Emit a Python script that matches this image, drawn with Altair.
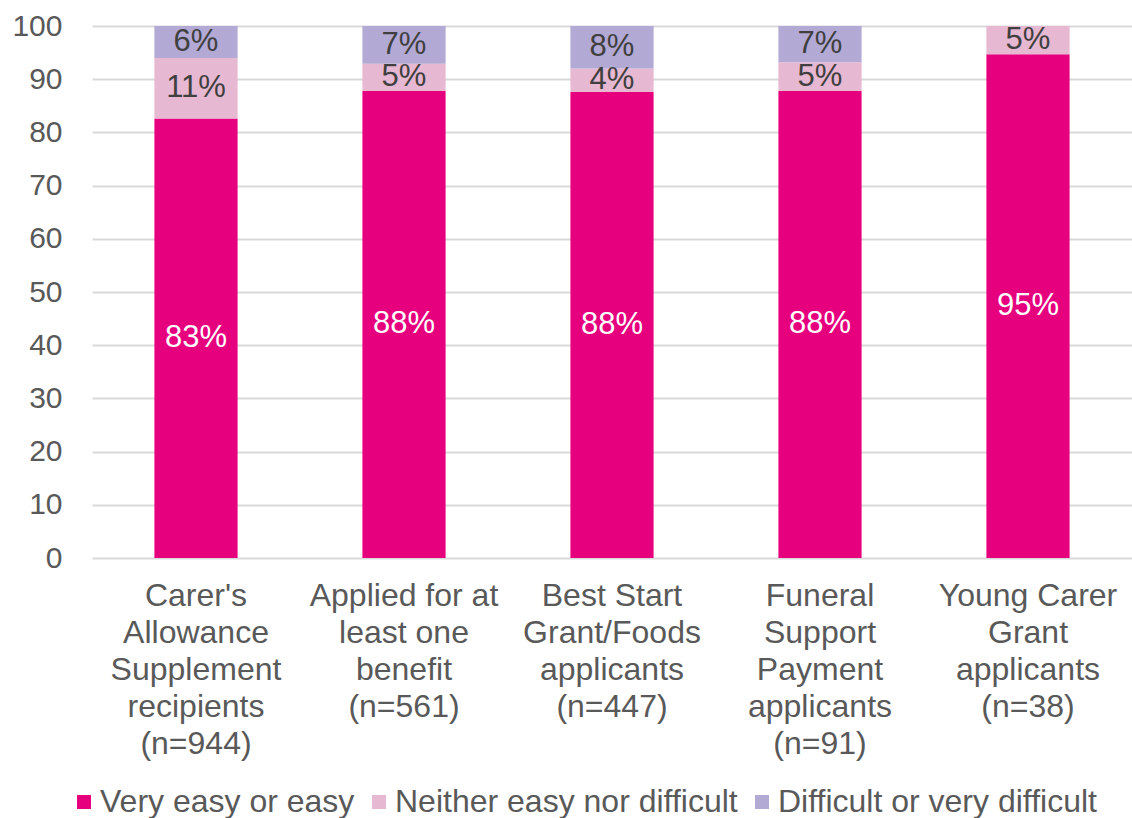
import altair as alt
import pandas as pd

groups = [
    "Carer's|Allowance|Supplement|recipients|(n=944)",
    "Applied for at|least one|benefit|(n=561)",
    "Best Start|Grant/Foods|applicants|(n=447)",
    "Funeral|Support|Payment|applicants|(n=91)",
    "Young Carer|Grant|applicants|(n=38)",
]
responses = ["Very easy or easy", "Neither easy nor difficult", "Difficult or very difficult"]
very_easy = [82.6, 87.8, 87.6, 87.8, 94.7]
neither = [11.4, 5.1, 4.4, 5.4, 5.3]
difficult = [6.0, 7.1, 8.0, 6.8, 0.0]
colors = ["#E6007E", "#E7B8D2", "#B3A9D5"]

rows = []
for i, g in enumerate(groups):
    for j, (r, vals) in enumerate(zip(responses, [very_easy, neither, difficult])):
        rows.append({"group": g, "response": r, "order": j, "value": vals[i]})
df = pd.DataFrame(rows)

font = "Liberation Sans"

base = alt.Chart(df).transform_stack(
    stack="value", groupby=["group"], as_=["v0", "v1"],
    sort=[alt.SortField("order", order="ascending")]
).transform_calculate(
    mid="(datum.v0 + datum.v1) / 2",
    label="format(datum.value, '.0f') + '%'"
)

x_enc = alt.X("group:N", sort=groups, title=None,
              scale=alt.Scale(paddingInner=0.6, paddingOuter=0.3),
              axis=alt.Axis(labelExpr="split(datum.label, '|')", labelAngle=0,
                            labelFont=font, labelFontSize=32, labelColor="#595959",
                            labelLineHeight=37, labelPadding=22, ticks=False,
                            domain=False, labelBaseline="top", labelLimit=0))

bars = base.mark_bar().encode(
    x=x_enc,
    y=alt.Y("v0:Q", title=None, scale=alt.Scale(domain=[0, 100]),
            axis=alt.Axis(values=list(range(0, 101, 10)), labelFont=font,
                          labelFontSize=30, labelColor="#595959", ticks=False,
                          domain=False, gridColor="#D9D9D9", gridWidth=2,
                          labelPadding=30)),
    y2="v1:Q",
    color=alt.Color("response:N", sort=responses,
                    scale=alt.Scale(domain=responses, range=colors),
                    legend=alt.Legend(title=None, orient="none", direction="horizontal",
                                      legendX=-24, legendY=760, symbolType="square",
                                      symbolSize=196, symbolStrokeWidth=0,
                                      labelFont=font, labelFontSize=32,
                                      labelColor="#595959", labelOffset=0,
                                      columnPadding=8, labelLimit=0)),
)

text = base.transform_filter("datum.value > 0").mark_text(
    font=font, fontSize=31, baseline="middle", align="center"
).encode(
    x=alt.X("group:N", sort=groups),
    y=alt.Y("mid:Q"),
    text="label:N",
    color=alt.condition("datum.order == 0", alt.value("#FFFFFF"), alt.value("#404040")),
)

chart = alt.layer(bars, text).properties(
    width=1040, height=532,
    autosize=alt.AutoSizeParams(type="none"),
    padding={"left": 92, "top": 26, "right": 0, "bottom": 260},
).configure_view(stroke=None)

chart.save("out.html", embed_options={"renderer": "svg", "actions": False})
